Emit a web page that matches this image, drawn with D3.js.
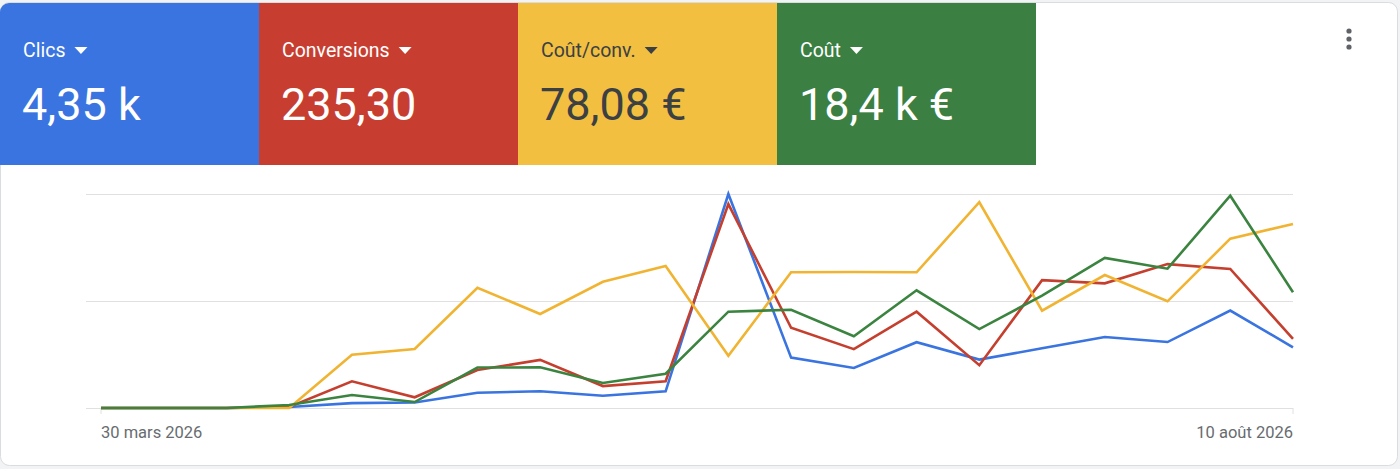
<html>
  <head>
    <meta charset="utf-8">
    <script src="https://cdn.jsdelivr.net/npm/d3@7"></script>
    <style>
      body { margin: 0; background: #f1f3f4; font-family: Roboto, "Noto Sans", sans-serif; }
    </style>
  </head>
  <body>
<div id="chart-container"></div>
<script>

let width = 1400;
let height = 469;

// weekly points, 30 mars 2026 -> 10 aout 2026
let weeks = ['2026-03-30','2026-04-06','2026-04-13','2026-04-20','2026-04-27','2026-05-04',
             '2026-05-11','2026-05-18','2026-05-25','2026-06-01','2026-06-08','2026-06-15',
             '2026-06-22','2026-06-29','2026-07-06','2026-07-13','2026-07-20','2026-07-27',
             '2026-08-03','2026-08-10'];

let clics = [0, 0, 0, 5, 25, 28, 78, 86, 63, 86, 1100, 259, 206, 338, 249, 307, 365, 339, 501, 312];
let conversions = [0, 0, 0, 0.2, 5.0, 2.0, 7.1, 9.0, 4.1, 5.0, 38.1, 15.0, 11.0, 18.0, 8.0, 23.9, 23.3, 26.9, 26.0, 12.9];
let coutConv = [0, 0, 0, 0, 34.9, 38.6, 78.7, 61.5, 82.6, 92.9, 34.2, 88.8, 89.0, 88.8, 134.6, 63.7, 87.0, 69.8, 110.8, 120.4];
let cout = [0, 0, 0, 41, 177, 81, 548, 551, 339, 464, 1305, 1331, 972, 1595, 1070, 1523, 2033, 1888, 2877, 1569];

let tileLabels = ['Clics', 'Conversions', 'Coût/conv.', 'Coût'];
let tileValues = ['4,35 k', '235,30', '78,08 €', '18,4 k €'];
let tileColors = ['#3a74e0', '#c73e30', '#f2bf41', '#3b7f42'];
let tileText = ['#ffffff', '#ffffff', '#3c4043', '#ffffff'];
let lineColors = ['#3a74e0', '#c53f2f', '#f0b432', '#3b8440'];
let seriesMax = [1100, 40, 140, 2900];
let tickLabels = ['30 mars 2026', '10 août 2026'];

let series = [clics, conversions, coutConv, cout];

let parseDate = d3.timeParse('%Y-%m-%d');
let dates = weeks.map(parseDate);

let svg = d3.select('#chart-container')
    .append('svg')
    .attr('width', width)
    .attr('height', height);

// card
svg.append('rect')
    .attr('x', 0.5).attr('y', 2.5)
    .attr('width', 1397).attr('height', 463)
    .attr('rx', 9)
    .attr('fill', '#ffffff')
    .attr('stroke', '#dadce0');

// tiles
let tileW = 259;
let clip = svg.append('clipPath').attr('id', 'card-clip');
clip.append('rect').attr('x', 0).attr('y', 3).attr('width', 1397).attr('height', 463).attr('rx', 9);

let tiles = svg.append('g')
    .attr('clip-path', 'url(#card-clip)')
    .selectAll('g')
    .data(tileLabels)
    .join('g')
    .attr('transform', (d, i) => 'translate(' + (i * tileW) + ',0)');

tiles.append('rect')
    .attr('x', 0).attr('y', 3)
    .attr('width', tileW).attr('height', 162)
    .attr('fill', (d, i) => tileColors[i]);

let labels = tiles.append('text')
    .attr('x', 23).attr('y', 57)
    .attr('font-size', 19.5)
    .attr('fill', (d, i) => tileText[i])
    .text(d => d);

labels.each(function(d, i) {
    let w = this.getComputedTextLength();
    d3.select(this.parentNode).append('path')
        .attr('d', 'M' + (23 + w + 9) + ',47 l13,0 l-6.5,7 z')
        .attr('fill', tileText[i]);
});

tiles.append('text')
    .attr('x', 22).attr('y', 120)
    .attr('font-size', 45)
    .attr('fill', (d, i) => tileText[i])
    .text((d, i) => tileValues[i]);

// menu dots
svg.append('g').selectAll('circle')
    .data([31, 39, 47])
    .join('circle')
    .attr('cx', 1349).attr('cy', d => d)
    .attr('r', 2.6)
    .attr('fill', '#5f6368');

// plot
let x = d3.scaleTime()
    .domain(d3.extent(dates))
    .range([101, 1293]);

let plotTop = 194;
let plotBottom = 408;

let grid = d3.axisLeft(d3.scaleLinear().domain([0, 2]).range([plotBottom, plotTop]))
    .ticks(2)
    .tickSize(-(1293 - 86))
    .tickFormat('');

svg.append('g')
    .attr('transform', 'translate(86,0)')
    .call(grid)
    .call(g => g.select('.domain').remove())
    .call(g => g.selectAll('line').attr('stroke', '#e0e0e0'));

// end ticks
svg.append('g').selectAll('line')
    .data([dates[0], dates[dates.length - 1]])
    .join('line')
    .attr('x1', d => x(d)).attr('x2', d => x(d))
    .attr('y1', plotBottom).attr('y2', plotBottom + 6)
    .attr('stroke', '#e0e0e0');

svg.append('g').selectAll('text')
    .data([dates[0], dates[dates.length - 1]])
    .join('text')
    .attr('x', d => x(d))
    .attr('y', 438)
    .attr('text-anchor', (d, i) => i === 0 ? 'start' : 'end')
    .attr('font-size', 16.5)
    .attr('fill', '#686c70')
    .text((d, i) => tickLabels[i]);

series.forEach(function(values, s) {
    let y = d3.scaleLinear().domain([0, seriesMax[s]]).range([plotBottom, plotTop]);
    let line = d3.line()
        .x((d, i) => x(dates[i]))
        .y(d => y(d));
    svg.append('path')
        .datum(values)
        .attr('d', line)
        .attr('fill', 'none')
        .attr('stroke', lineColors[s])
        .attr('stroke-width', 2.6)
        .attr('stroke-linejoin', 'miter');
});
</script>
  </body>
</html>
